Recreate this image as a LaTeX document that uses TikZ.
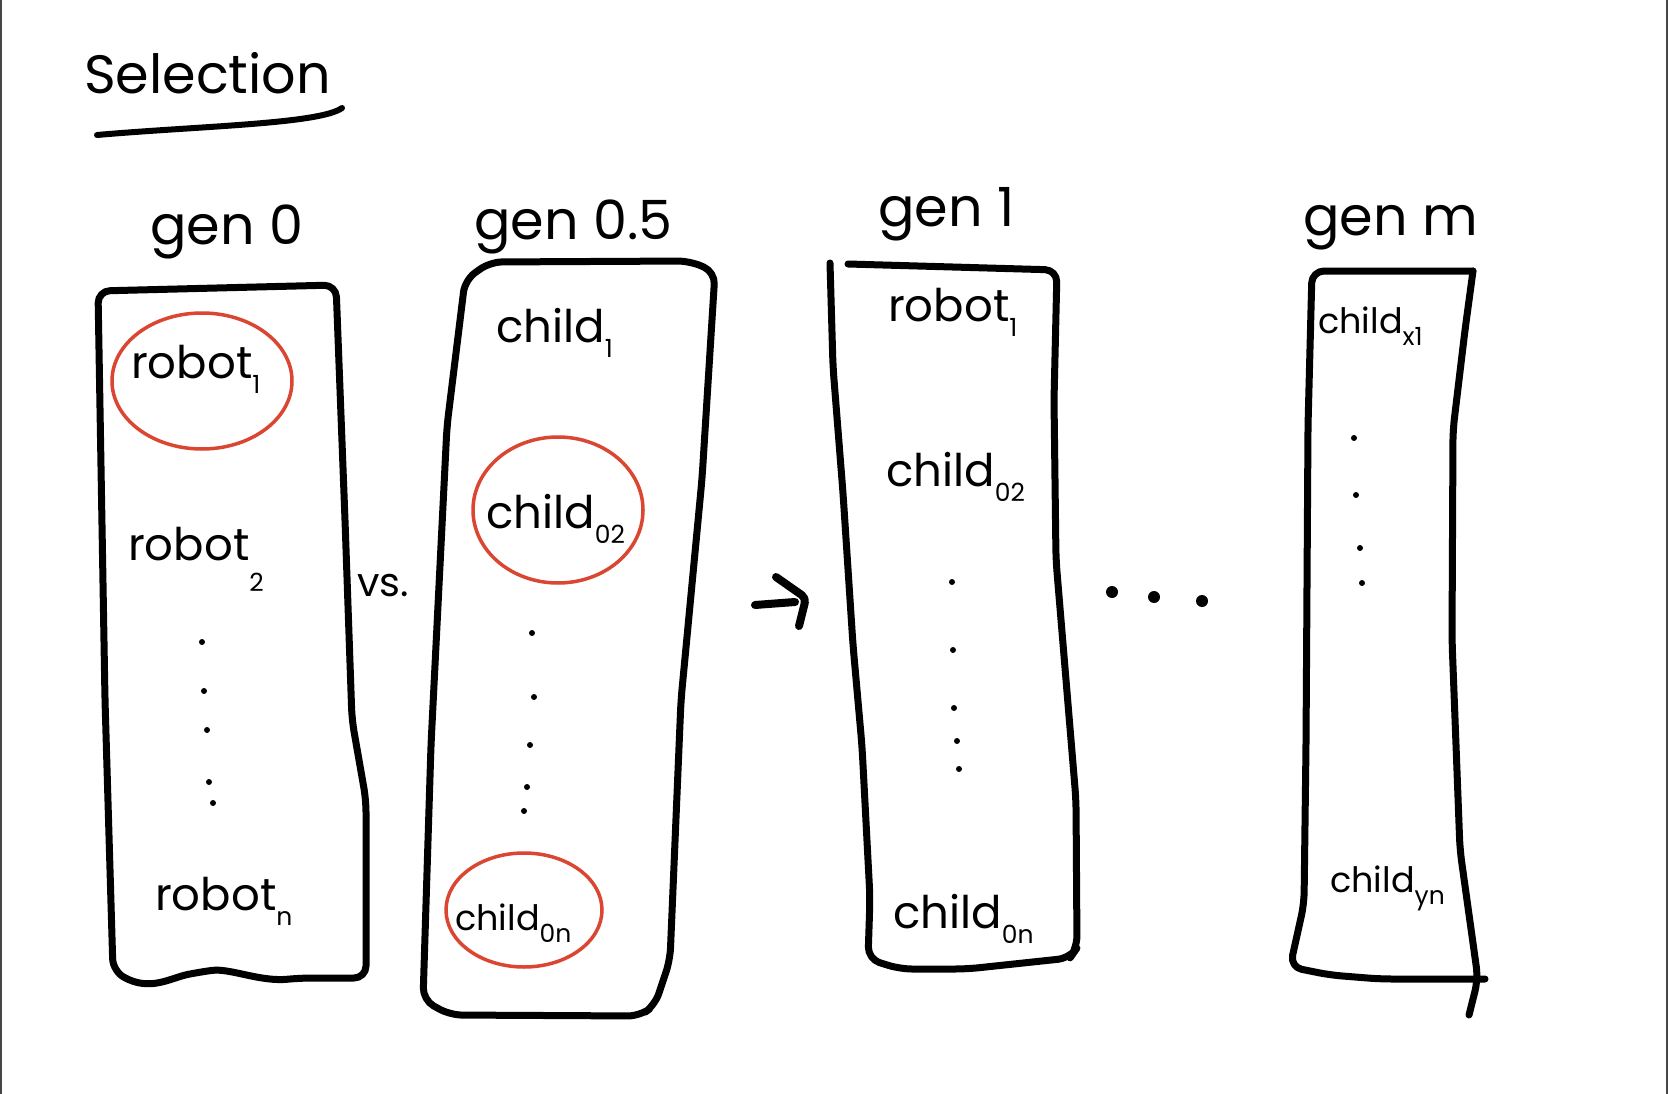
\documentclass[tikz,border=0pt]{standalone}
\usepackage{fontspec}
\setmainfont{Poppins}
\definecolor{redc}{RGB}{218,70,50}
\definecolor{edgegray}{RGB}{70,70,70}
\newcommand\subt[2][-0.35em]{\raisebox{#1}{\fontsize{25}{25}\selectfont #2}}
\begin{document}
\begin{tikzpicture}[x=1pt,y=-1pt,
  ink/.style={line width=7pt, line cap=round, line join=round, rounded corners=12pt},
  redink/.style={draw=redc, line width=3.5pt},
  lbl/.style={font=\fontsize{45}{50}\selectfont, inner sep=0pt, anchor=base west},
  small lbl/.style={font=\fontsize{35}{40}\selectfont, inner sep=0pt, anchor=base west},
  head/.style={font=\fontsize{54}{60}\selectfont, inner sep=0pt, anchor=base west},
  title/.style={font=\fontsize{54}{60}\selectfont, inner sep=0pt, anchor=base west},
]
\useasboundingbox (0,0) rectangle (1668,1094);
\fill[white] (0,0) rectangle (1668,1094);
\draw[edgegray, line width=2.5pt] (1.2,0) -- (1.2,1094);
\draw[edgegray, line width=2.5pt] (1666.8,0) -- (1666.8,1094);

% title
\node[title] (title) at (84,94) {Selection};
\coordinate (ulA) at (97,135);
\coordinate (ulB) at (342,108);
\draw[line width=6pt, line cap=round] (ulA) .. controls (200,126) and (320,124) .. (ulB);

% headings
\node[head] (g0) at (150,244) {gen 0};
\node[head] (g05) at (474,240) {gen 0.5};
\node[head] (g1) at (878,226) {gen 1};
\node[head] (gm) at (1303,236) {gen m};

% box 1
\draw[ink] (98,291) -- (336,285) -- (345,520) -- (352,720) -- (366,800) -- (366,978)
  -- (300,978) .. controls (260,982) and (230,968) .. (200,972)
  .. controls (170,978) and (150,992) .. (113,971) -- (105,700) -- cycle;
\node[lbl] (r1) at (131,378) {robot\subt{1}};
\node[lbl] (r2) at (128,560) {robot\subt[-0.7em]{2}};
\node[lbl] (rn) at (155,910) {robot\subt{n}};
\draw[redink] (202,381) ellipse [x radius=90, y radius=68];
\foreach \p in {(202,642),(204,691),(207,730),(209,782),(213,803)}
  \fill \p circle (3);

% vs
\node[small lbl, font=\fontsize{40}{44}\selectfont] (vs) at (357,596) {vs.};

% box 2
\draw[ink] (465,280) -- (490,262) -- (690,261) -- (715,272) -- (702,479) -- (681,700)
  -- (670,960) -- (655,1005) -- (640,1016) -- (450,1015) -- (423,1000) -- (431,745)
  -- (447,426) -- cycle;
\node[lbl] (c1) at (496,342) {child\subt{1}};
\node[lbl] (c02a) at (486,528) {child\subt{02}};
\node[small lbl] (c0na) at (455,930) {child\subt{0n}};
\draw[redink] (558,510) ellipse [x radius=85, y radius=73];
\draw[redink] (524,910) ellipse [x radius=78, y radius=57];
\foreach \p in {(532,633),(534,697),(530,745),(527,787),(524,811)}
  \fill \p circle (3);

% arrow
\coordinate (arS) at (755,605);
\coordinate (arE) at (795,602);
\coordinate (ahA) at (776,577);
\coordinate (ahB) at (799,626);
\draw[line width=8pt, line cap=round] (arS) -- (arE);
\draw[line width=8pt, line cap=round, line join=round, rounded corners=5pt] (ahA) -- (806,598) -- (ahB);

% box 3
\draw[ink] (848,264) -- (1057,270) -- (1054,400) -- (1056,560) -- (1066,680) -- (1076,800)
  -- (1077,948) -- (1070,958) -- (967,969) -- (900,969) -- (868,959) -- (870,898)
  -- (862,746) -- (853,645) -- (843,493) -- (833,367) -- (830,263);
\node[lbl] (r1b) at (888,321) {robot\subt{1}};
\node[lbl] (c02b) at (886,486) {child\subt{02}};
\node[lbl] (c0nb) at (893,928) {child\subt{0n}};
\foreach \p in {(952,582),(953,650),(954,708),(957,741),(959,769)}
  \fill \p circle (3);

% ellipsis between boxes
\foreach \p in {(1112,592),(1154,597),(1202,601)}
  \fill \p circle (6);

% box 4
\draw[ink] (1473,271) -- (1312,271) -- (1308,426) -- (1306,745) -- (1304,904) -- (1290,967)
  -- (1330,975) -- (1380,979) -- (1485,979);
\draw[ink] (1473,271) -- (1465,330) -- (1453,430) -- (1452,640) -- (1460,850) -- (1478,979) -- (1469,1015);
\node[small lbl] (cx1) at (1318,333) {child\subt{x1}};
\node[small lbl] (cyn) at (1330,892) {child\subt{yn}};
\foreach \p in {(1354,438),(1356,495),(1360,548),(1362,583)}
  \fill \p circle (3);
\end{tikzpicture}
\end{document}
